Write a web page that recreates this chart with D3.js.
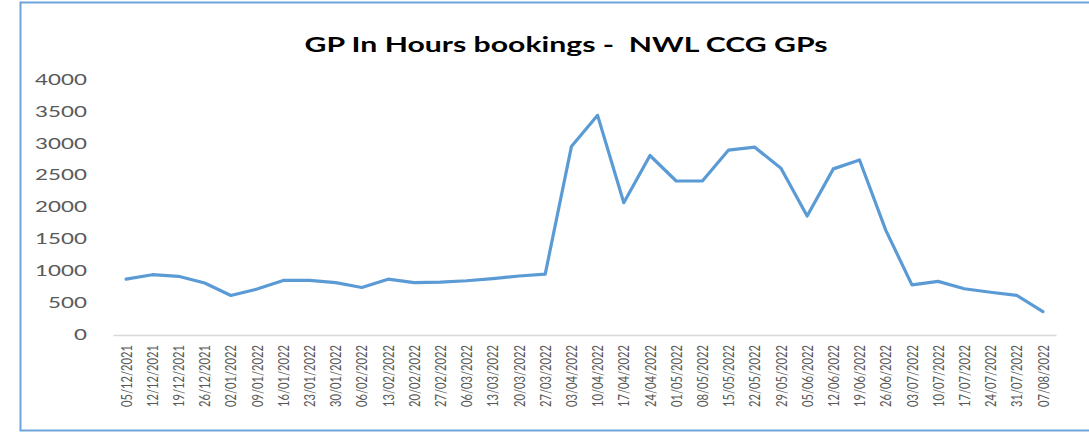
<!DOCTYPE html>
<html>
<head>
<meta charset="utf-8">
<script src="https://cdn.jsdelivr.net/npm/d3@7.9.0/dist/d3.min.js"></script>
<style>
  html, body { margin: 0; padding: 0; background: #fff; }
  svg { display: block; }
</style>
</head>
<body>
<svg id="chart" width="1089" height="433"></svg>
<script>
// weekly booking counts
const weeks = [
  '05/12/2021', '12/12/2021', '19/12/2021', '26/12/2021', '02/01/2022', '09/01/2022',
  '16/01/2022', '23/01/2022', '30/01/2022', '06/02/2022', '13/02/2022', '20/02/2022',
  '27/02/2022', '06/03/2022', '13/03/2022', '20/03/2022', '27/03/2022', '03/04/2022',
  '10/04/2022', '17/04/2022', '24/04/2022', '01/05/2022', '08/05/2022', '15/05/2022',
  '22/05/2022', '29/05/2022', '05/06/2022', '12/06/2022', '19/06/2022', '26/06/2022',
  '03/07/2022', '10/07/2022', '17/07/2022', '24/07/2022', '31/07/2022', '07/08/2022'
];
const bookings = [
  860, 930, 905, 800, 605, 705, 840, 840, 805, 730, 860, 805,
  815, 835, 870, 910, 940, 2940, 3430, 2060, 2800, 2400, 2400, 2885,
  2930, 2600, 1850, 2590, 2730, 1630, 770, 825, 710, 655, 605, 350
];
const yTicks = [0, 500, 1000, 1500, 2000, 2500, 3000, 3500, 4000];
const title = 'GP In Hours bookings -  NWL CCG GPs';

const svg = d3.select('#chart');
const font = 'Lato, "Open Sans", sans-serif';
const stretch = 1.4; // the source image is stretched horizontally

// frame
svg.append('path')
  .attr('d', 'M1089,2.5 H20.5 V430.5 H1089')
  .attr('fill', 'none')
  .attr('stroke', '#6FA4DA')
  .attr('stroke-width', 2);

const x = d3.scaleBand().domain(weeks).range([113, 1056]);
const y = d3.scaleLinear().domain([0, 4000]).range([334, 79]);

// title (keeps the double space)
svg.append('text')
  .attr('x', 566).attr('y', 52)
  .attr('text-anchor', 'middle')
  .attr('font-family', font)
  .attr('font-weight', 700)
  .attr('font-size', 21)
  .attr('fill', '#000')
  .attr('xml:space', 'preserve')
  .style('white-space', 'pre')
  .attr('textLength', 523)
  .attr('lengthAdjust', 'spacingAndGlyphs')
  .text(title);

// y labels (no gridlines in the original)
svg.append('g')
  .selectAll('text')
  .data(yTicks)
  .join('text')
  .attr('transform', (d) => `translate(87,${y(d)}) scale(${stretch},1)`)
  .attr('dy', '0.36em')
  .attr('text-anchor', 'end')
  .attr('font-family', font)
  .attr('font-size', 16)
  .attr('fill', '#595959')
  .text((d) => d);

// x axis
const xAxis = svg.append('g')
  .attr('transform', 'translate(0,335)')
  .call(d3.axisBottom(x).tickSize(0).tickPadding(0));
xAxis.select('.domain').attr('stroke', '#D9D9D9').attr('stroke-width', 1.5);
xAxis.selectAll('text')
  .attr('font-family', font)
  .attr('font-size', 11.2)
  .attr('fill', '#595959')
  .attr('text-anchor', 'end')
  .attr('x', 0).attr('y', 0).attr('dy', 0)
  .attr('transform', `translate(0,10) scale(${stretch},1) rotate(-90) translate(0,4)`);

// line
const line = d3.line()
  .x((d, i) => x(weeks[i]) + x.bandwidth() / 2)
  .y((d) => y(d));

svg.append('path')
  .datum(bookings)
  .attr('d', line)
  .attr('fill', 'none')
  .attr('stroke', '#5B9BD5')
  .attr('stroke-width', 3.2)
  .attr('stroke-linejoin', 'round')
  .attr('stroke-linecap', 'round');
</script>
</body>
</html>
